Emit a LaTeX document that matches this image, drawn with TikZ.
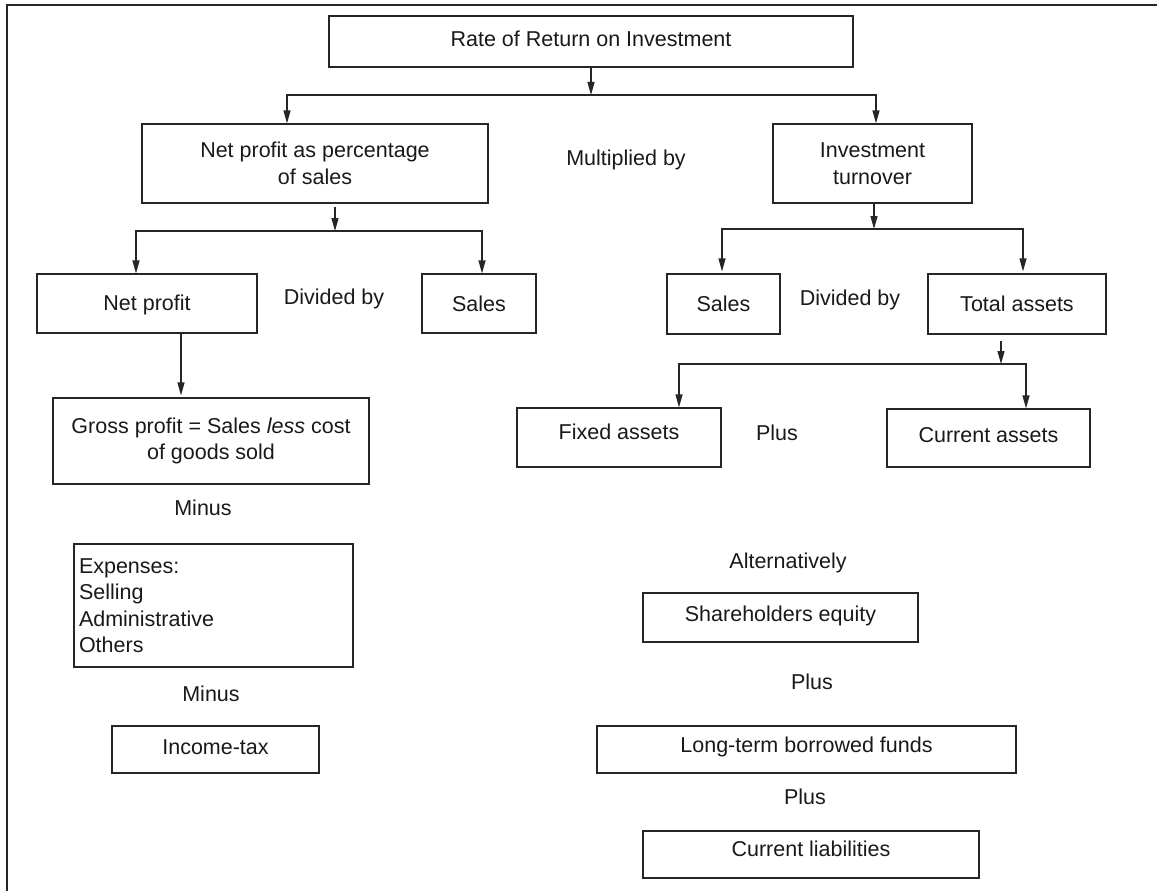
\documentclass[tikz,border=0pt]{standalone}
\usepackage{fontspec}
\setmainfont{Liberation Sans}
\usetikzlibrary{arrows.meta,calc}
\begin{document}
\begin{tikzpicture}[x=1pt,y=-1pt,
  txt/.style={text=black!90, font=\fontsize{21.5}{26.5}\selectfont},
  box/.style={txt, draw=black!85, line width=1.2pt, rectangle, inner sep=0pt, align=center},
  lbl/.style={txt, inner sep=0pt},
  link/.style={draw=black!85, line width=1.2pt},
  arr/.style={link, -{Triangle[length=13pt,width=7pt]}}]
\useasboundingbox (0,0) rectangle (1157,891);
% open frame: top and left edges only
\draw[link] (1157,5) -- (7,5) -- (7,891);

% boxes
\node[box, minimum width=524pt, minimum height=51pt, text depth=6pt] (roi) at (591,41.5) {Rate of Return on Investment};
\node[box, minimum width=346pt, minimum height=79pt] (npps) at (315,163.5) {Net profit as percentage\\of sales};
\node[box, minimum width=199pt, minimum height=79pt] (it) at (872.5,163.5) {Investment\\turnover};
\node[box, minimum width=220pt, minimum height=59pt, text depth=2pt] (np) at (147,303.5) {Net profit};
\node[box, minimum width=114pt, minimum height=59pt] (salesL) at (479,303.5) {Sales};
\node[box, minimum width=113pt, minimum height=60pt] (salesR) at (723.5,304) {Sales};
\node[box, minimum width=178pt, minimum height=60pt] (ta) at (1017,304) {Total assets};
\node[box, minimum width=204pt, minimum height=59pt, text depth=12pt] (fa) at (619,437.5) {Fixed assets};
\node[box, minimum width=203pt, minimum height=58pt, text depth=6pt] (ca) at (988.5,438) {Current assets};
\node[box, minimum width=316pt, minimum height=86pt] (gp) at (211,441) {Gross profit = Sales \textit{less} cost\\of goods sold};
\node[box, align=left, text width=269pt, inner xsep=5pt, minimum height=123pt] (exp) at (213.5,605.5) {Expenses:\\Selling\\Administrative\\Others};
\node[box, minimum width=207pt, minimum height=47pt, text depth=4pt] (tax) at (215.5,749.5) {Income-tax};
\node[box, minimum width=275pt, minimum height=49pt, text depth=8.5pt] (se) at (780.5,617.5) {Shareholders equity};
\node[box, minimum width=419pt, minimum height=47pt, text depth=10.5pt] (ltbf) at (806.5,749.5) {Long-term borrowed funds};
\node[box, minimum width=336pt, minimum height=47pt, text depth=12pt] (cl) at (811,854.5) {Current liabilities};

% operator labels
\node[lbl] (mul) at (626,160) {Multiplied by};
\node[lbl] (divL) at (334,299) {Divided by};
\node[lbl] (divR) at (850,300) {Divided by};
\node[lbl] (plusA) at (777,433) {Plus};
\node[lbl] (minus1) at (203,508) {Minus};
\node[lbl] (minus2) at (211,694) {Minus};
\node[lbl] (alt) at (788,563) {Alternatively};
\node[lbl] (plusB) at (812,682) {Plus};
\node[lbl] (plusC) at (805,797) {Plus};

% junction points on the branching bars
\coordinate (j1) at (591,95);
\coordinate (j2) at (335,231);
\coordinate (j3) at (874,229);
\coordinate (j4) at (1001,364);

% connectors
\draw[arr] (roi.south) -- (j1);
\draw[arr] (j1) -| ([xshift=-28pt]npps.north);
\draw[arr] (j1) -| ([xshift=3.5pt]it.north);

\draw[arr] ([xshift=20pt,yshift=-3pt]npps.south) -- (j2);
\draw[arr] (j2) -| ([xshift=-11pt]np.north);
\draw[arr] (j2) -| ([xshift=3pt]salesL.north);

\draw[arr] ([xshift=1.5pt]it.south) -- (j3);
\draw[arr, shorten >=2pt] (j3) -| ([xshift=-1.5pt]salesR.north);
\draw[arr, shorten >=2pt] (j3) -| ([xshift=6pt]ta.north);

\draw[arr] ([xshift=-16pt,yshift=-6pt]ta.south) -- (j4);
\draw[arr] (j4) -| ([xshift=60pt]fa.north);
\draw[arr] (j4) -| ([xshift=37.5pt]ca.north);

\draw[arr, shorten >=2pt] ([xshift=34pt]np.south) -- ([xshift=34pt]np.south |- gp.north);
\end{tikzpicture}
\end{document}
